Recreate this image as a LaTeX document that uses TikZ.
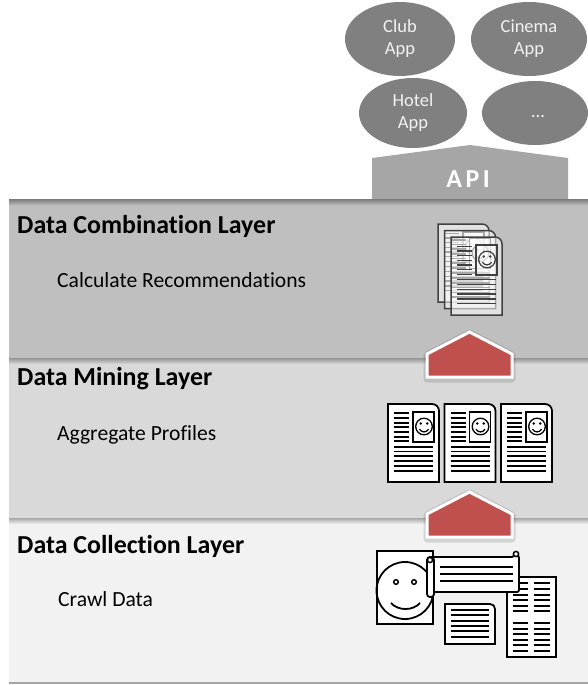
\documentclass[tikz,border=0pt]{standalone}
\usepackage{fontspec}
\setmainfont{Carlito}[Ligatures={NoCommon,NoContextual}]
\usetikzlibrary{shapes.geometric}
\definecolor{appgray}{HTML}{808080}
\definecolor{apigray}{HTML}{A6A6A6}
\definecolor{combgray}{HTML}{BFBFBF}
\definecolor{minegray}{HTML}{D9D9D9}
\definecolor{collgray}{HTML}{F2F2F2}
\definecolor{arrowred}{HTML}{C0504D}
\definecolor{inkgray}{HTML}{404040}
\tikzset{
  head/.style={font=\fontsize{25.9}{30}\selectfont\bfseries, anchor=base west, inner sep=0pt},
  sub/.style={font=\fontsize{21.6}{26}\selectfont, anchor=base west, inner sep=0pt},
  app/.style={ellipse, fill=appgray, text=collgray, inner sep=0pt, align=center,
    font=\fontsize{18.5}{22}\selectfont},
  apitext/.style={font=\fontsize{25.9}{30}\selectfont\bfseries, text=white, anchor=base, inner sep=0pt},
  uparrow/.style={fill=arrowred, draw=white, line width=3pt, line join=miter},
  arrowhalo/.style={draw=black, opacity=0.12, line width=7pt, line join=round},
  docpage/.style={draw=black, fill=white, line width=1.8pt},
  docline/.style={draw=black, line width=1.8pt},
  docink/.style={draw=black},
  docinkfill/.style={fill=black},
  ink/.style={draw=black, line width=1.8pt},
  inkline/.style={draw=black, line width=1.8pt},
  % profile sheet: text lines, a photo with a smiley and a rounded corner
  profile/.pic={
    \path[docpage] (0,0) -- (44,0) .. controls (48,0) and (51,3) .. (51,7)
      -- (51,78) -- (0,78) -- cycle;
    \path[docpage, line width=1.4pt] (25,8) rectangle (46,38);
    \path[docink, line width=1.3pt] (36,22.5) circle[radius=8.3pt];
    \path[docinkfill] (32.7,19.5) circle[radius=1.4pt] (39.3,19.5) circle[radius=1.4pt];
    \path[docink, line width=1.3pt] (31.5,25.2) .. controls (33.5,28.8) and (38.5,28.8) .. (40.5,25.2);
    \foreach \yy in {9.3,14,18.7,23.3,28,32.7,37.3}
      \path[docline] (6,\yy) -- (21,\yy);
    \foreach \yy in {42.7,47.5,52.3,57.1,61.9,66.7}
      \path[docline] (6,\yy) -- (45,\yy);
  }
}
\begin{document}
\begin{tikzpicture}[x=1pt,y=-1pt]
\useasboundingbox (0,0) rectangle (588,685);

% client applications
\node[app, minimum width=110pt, minimum height=74pt] (club)   at (400,39)  {Club\\App};
\node[app, minimum width=116pt, minimum height=74pt] (cinema) at (529,39)  {Cinema\\App};
\node[app, minimum width=108pt, minimum height=70pt] (hotel)  at (413,113) {Hotel\\App};
\node[app, minimum width=106pt, minimum height=64pt] (more)   at (535,113) {};
\node[font=\fontsize{18.5}{22}\selectfont, text=collgray, anchor=base, inner sep=0pt]
  (dots) at (538,117) {\dots};

% API block
\fill[apigray] (372,205) -- (372,158) -- (470,145) -- (568,158) -- (568,205) -- cycle;
\node[apitext] (api) at (468,187) {A\kern3.5pt P\kern3.5pt I};

% layer bands with a shaded upper edge
\fill[combgray] (9,200) rectangle (588,360);
\shade[top color=appgray, bottom color=combgray] (9,199.5) rectangle (588,205.5);
\fill[minegray] (9,360) rectangle (588,520);
\shade[top color=appgray!85!white, bottom color=minegray] (9,358) rectangle (588,364);
\fill[collgray] (9,520) rectangle (588,683);
\shade[top color=appgray!70!white, bottom color=collgray] (9,518) rectangle (588,524);
\draw[apigray, line width=1.5pt] (9,683) -- (588,683);

% layer titles
\node[head] (combT) at (17,233) {Data Combination Layer};
\node[sub]  (combS) at (57,287) {Calculate Recommendations};
\node[head] (mineT) at (17,385) {Data Mining Layer};
\node[sub]  (mineS) at (57,440) {Aggregate Profiles};
\node[head] (collT) at (17,553) {Data Collection Layer};
\node[sub]  (collS) at (58,606) {Crawl Data};

% combined recommendations: a stack of faded profiles
\begin{scope}[docpage/.style={draw=inkgray, fill=white, fill opacity=0.55, line width=1.5pt},
              docline/.style={draw=inkgray, line width=1.5pt},
              docink/.style={draw=inkgray},
              docinkfill/.style={fill=inkgray}]
  \pic at (438,224) {profile};
  \pic at (444.5,230.5) {profile};
  \pic at (451,237) {profile};
\end{scope}

% aggregated profiles
\pic at (388,404) {profile};
\pic at (444.5,404) {profile};
\pic at (501,404) {profile};

% crawled data: newspaper
\path[ink, fill=white] (507,577) rectangle (556,657);
\foreach \yy in {583.3,589,595,600,606,611,623.3,629,634.3,640,645,650.7} {
  \path[inkline] (513,\yy) -- (528,\yy);
  \path[inkline] (534,\yy) -- (550,\yy);
}
% crawled data: portrait card
\path[ink, fill=white] (377,551) rectangle (433,624);
\path[ink] (405,590.5) circle[radius=28.5pt];
\path[ink, line width=1.5pt] (396,582) circle[radius=2.3pt] (414,582) circle[radius=2.3pt];
\path[ink] (391,603) .. controls (398,611) and (413,611) .. (420,603);
% crawled data: scroll
\path[ink, fill=white, rounded corners=2pt] (431,557) -- (514,557) -- (516,552) -- (519,556)
  -- (519,592) -- (431,592) -- cycle;
\path[ink, fill=white, rounded corners=3pt] (427,557) rectangle (434,597);
\path[ink, line width=1.5pt, fill=white] (430,560) circle[radius=2.6pt];
\path[ink, line width=1.5pt, fill=white] (516,554) circle[radius=2.6pt];
\foreach \yy in {567,574,581}
  \path[inkline] (440,\yy) -- (513,\yy);
% crawled data: note
\path[ink, fill=white] (445,604) -- (490,604) .. controls (493,604) and (495,606) .. (495,609)
  -- (495,644) -- (445,644) -- cycle;
\foreach \yy in {610,615.3,620.7,626,631.3,636.7}
  \path[inkline] (451,\yy) -- (489,\yy);

% upward flow between layers
\foreach \dy in {0,160} {
  \begin{scope}[yshift=-\dy pt]
    \path[arrowhalo] (427,379) -- (427,355) -- (469.5,333) -- (512,355) -- (512,379) -- cycle;
    \path[uparrow] (427,377) -- (427,354) -- (469.5,332) -- (512,354) -- (512,377) -- cycle;
  \end{scope}
}
\end{tikzpicture}
\end{document}
